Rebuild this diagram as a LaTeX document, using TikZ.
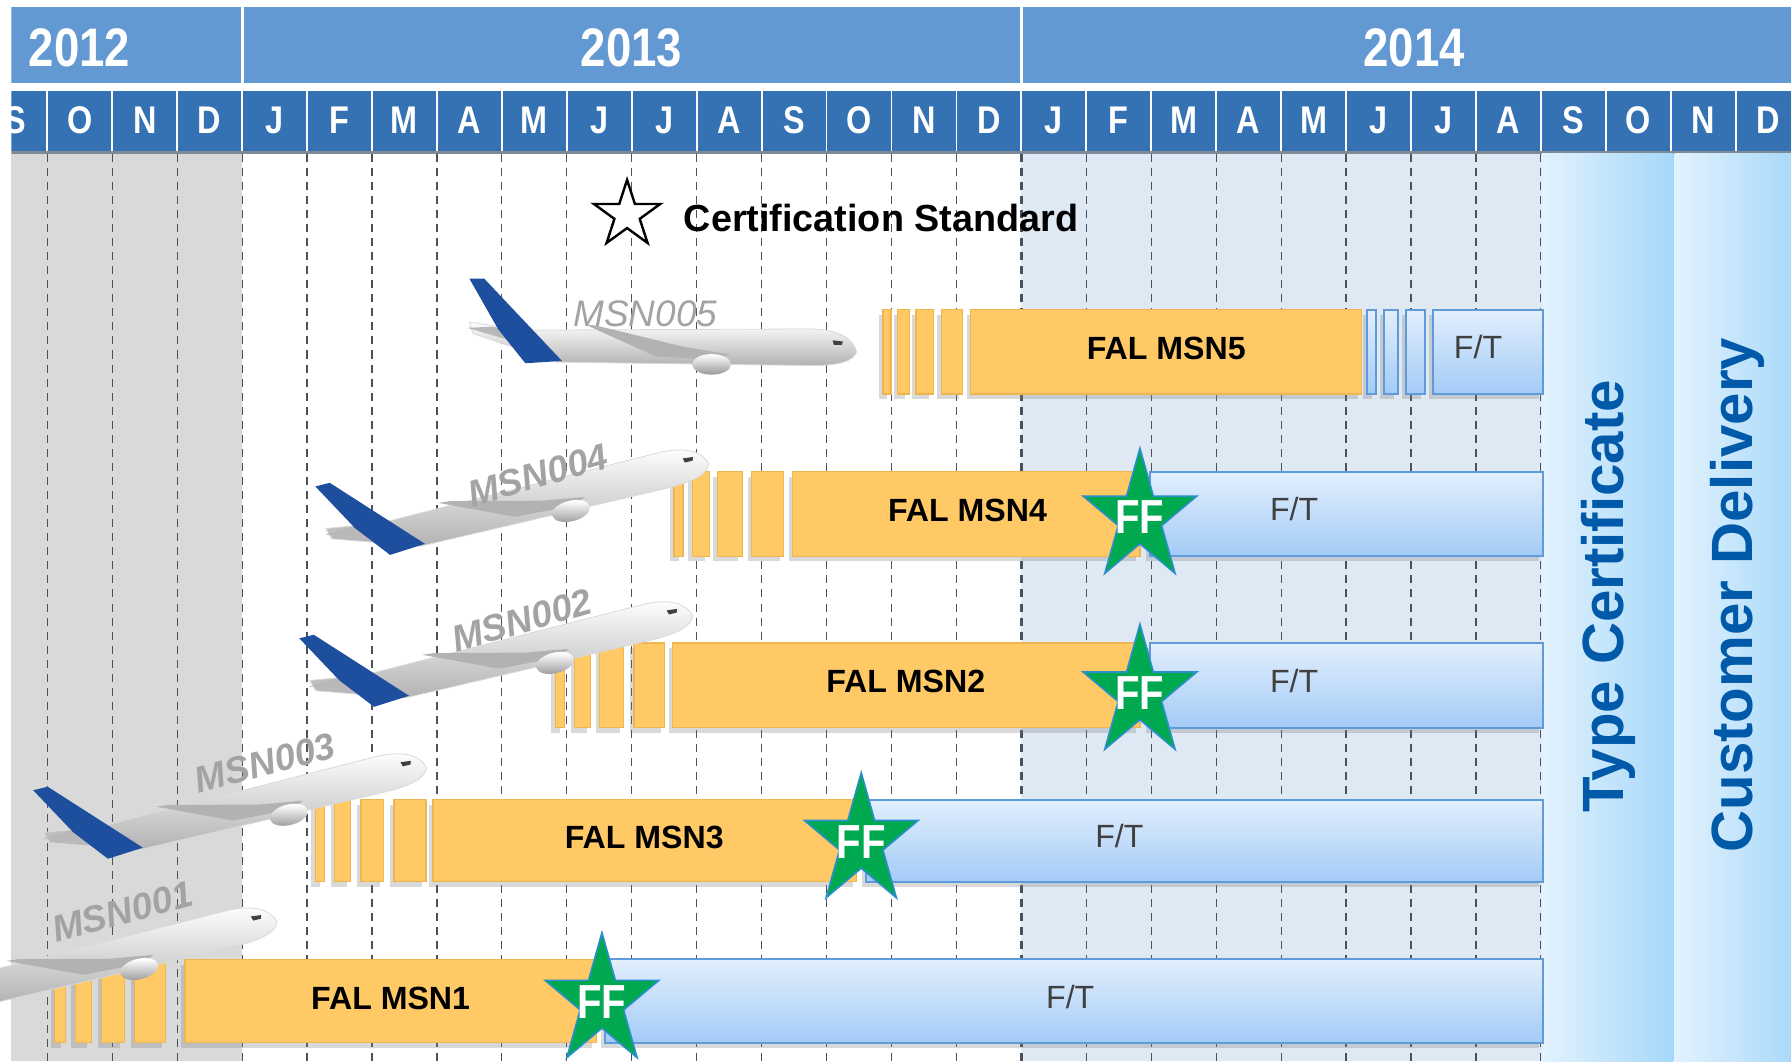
\documentclass[tikz,border=0pt]{standalone}
\usepackage{fontspec}
\setmainfont{Liberation Sans}
\usetikzlibrary{shapes.geometric,shadows}
\definecolor{YearBlue}{HTML}{6399D2}
\definecolor{MonthBlue}{HTML}{3572B4}
\definecolor{HeadLine}{HTML}{7F8A98}
\definecolor{Grey2012}{HTML}{D9D9D9}
\definecolor{Pale2014}{HTML}{DFE9F4}
\definecolor{TcLight}{HTML}{E3F2FD}
\definecolor{TcDeep}{HTML}{A5D8FA}
\definecolor{GridGrey}{HTML}{4A525C}
\definecolor{FalOrange}{HTML}{FFC966}
\definecolor{FalEdge}{HTML}{F0B451}
\definecolor{FtTop}{HTML}{E2EFFD}
\definecolor{FtBottom}{HTML}{A3CBF6}
\definecolor{FtEdge}{HTML}{5F9BD8}
\definecolor{FFGreen}{HTML}{00A94F}
\definecolor{FFEdge}{HTML}{2A8FCB}
\definecolor{TcText}{HTML}{0059A9}
\definecolor{MsnGrey}{HTML}{A3A3A1}
\definecolor{TailBlue}{HTML}{1D4F9E}

\newcommand{\narrowtxt}[1]{\scalebox{0.84}[1]{#1}}

\tikzset{
  yeartxt/.style={text=white, font=\bfseries\fontsize{13.5}{14}\selectfont, inner sep=0pt, anchor=base},
  monthtxt/.style={text=white, font=\bfseries\fontsize{9.6}{10}\selectfont, inner sep=0pt, anchor=base},
  gridline/.style={GridGrey, line width=0.3pt, dash pattern=on 2pt off 1.5pt},
  barshadow/.style={drop shadow={shadow xshift=-1pt, shadow yshift=-1.3pt, opacity=0.3}},
  falbar/.style={fill=FalOrange, draw=FalEdge, line width=0.3pt, barshadow},
  ftbar/.style={top color=FtTop, bottom color=FtBottom, draw=FtEdge, line width=0.5pt, barshadow},
  faltxt/.style={font=\bfseries\fontsize{8}{9}\selectfont, inner sep=0pt},
  fttxt/.style={text=black!75, font=\fontsize{8}{9}\selectfont, inner sep=0pt},
  ffstar/.style={star, star points=5, star point ratio=2.618, minimum size=1.21cm, inner sep=0pt,
    xscale=0.865, transform shape, fill=FFGreen, draw=FFEdge, line width=0.4pt},
  fftxt/.style={text=white, font=\bfseries\fontsize{11.9}{12}\selectfont, inner sep=0pt},
  certstar/.style={star, star points=5, star point ratio=2.618, minimum size=0.61cm, inner sep=0pt,
    draw=black, fill=white, line width=0.6pt},
  certtxt/.style={font=\bfseries\fontsize{9.4}{10}\selectfont, inner sep=0pt},
  msnlbl/.style={text=MsnGrey, font=\bfseries\itshape\fontsize{9.2}{10}\selectfont, inner sep=0pt},
  tctxt/.style={text=TcText, font=\bfseries\fontsize{14.5}{15}\selectfont, inner sep=0pt, rotate=90},
  airplane/.pic={
    % fuselage
    \shade[top color=white, middle color=white, bottom color=black!30, draw=black!15, line width=0.2pt]
      (0,2) .. controls (-3,-9) and (-14,-17) .. (-38,-18) -- (-292,-17) -- (-339,-24)
      -- (-336,-14) -- (-262,11) -- (-40,14) .. controls (-14,14) and (-3,10) .. (0,2) -- cycle;
    \fill[black!28] (-341,-19) -- (-318,-20) -- (-284,-9) -- (-300,-7) -- cycle;
    \fill[TailBlue] (-339,-62) -- (-326,-62) -- (-258,10) -- (-290,12) -- (-314,-18) -- cycle;
    % wing and engine
    \fill[black!30] (-238,-22) -- (-228,-21) -- (-150,-2) -- (-112,4) -- (-124,9) -- (-176,6) -- cycle;
    \shade[top color=white, bottom color=black!40] (-127,13) ellipse (17 and 9);
    \fill[black!75] (-21,-8) -- (-12,-7) -- (-13,-4) -- (-20,-4) -- cycle;
  }
}

\begin{document}
\begin{tikzpicture}[x=0.01cm, y=-0.01cm]
\useasboundingbox (0,0) rectangle (1568,929);
\clip (0,0) rectangle (1568,929);

% header
\begin{scope}
  \clip (10,0) rectangle (1568,929);
  \fill[YearBlue] (10,6) rectangle (1568,73);
  \draw[white, line width=0.8pt] (212,6) -- (212,73) (894,6) -- (894,73);
  \foreach \m [count=\i from -4] in {S,O,N,D,J,F,M,A,M,J,J,A,S,O,N,D,J,F,M,A,M,J,J,A,S,O,N,D}{
    \fill[MonthBlue] ({212+56.85*\i+0.8},80) rectangle ({212+56.85*(\i+1)-0.8},132);
    \node[monthtxt] (mon\i) at ({212+56.85*(\i+0.5)},116.5) {\narrowtxt{\m}};
  }
  \fill[HeadLine] (10,132) rectangle (1568,134.5);
\end{scope}
\node[yeartxt] (y2012) at (69.5,58.4) {\narrowtxt{2012}};
\node[yeartxt] (y2013) at (553,58.4) {\narrowtxt{2013}};
\node[yeartxt] (y2014) at (1238,58.4) {\narrowtxt{2014}};

% background columns
\fill[Grey2012] (10,134.5) rectangle (212,929);
\fill[Pale2014] (894,134.5) rectangle (1350,929);
\shade[left color=TcLight, right color=TcDeep] (1350,134.5) rectangle (1465,929);
\shade[left color=TcLight, right color=TcDeep] (1466,134.5) rectangle (1576,929);
\foreach \i in {-3,...,20}
  \draw[gridline] ({212+56.85*\i},134.5) -- ({212+56.85*\i},929);
\draw[gridline, line width=0.7pt] (894,134.5) -- (894,929);

% legend
\node[certstar] (cert) at (549,188) {};
\node[certtxt, anchor=base west] (certlbl) at (598,202.8) {Certification Standard};

% MSN5
\foreach \a/\b in {773/780,786/796,802/817,824/843} \path[falbar] (\a,271) rectangle (\b,345);
\path[falbar] (850,271) rectangle (1192,345);
\foreach \a/\b in {1197/1205,1212/1224,1231/1248} \path[ftbar] (\a,271) rectangle (\b,345);
\path[ftbar] (1255,271) rectangle (1351,345);
\node[faltxt] (fal5) at (1021,305) {FAL MSN5};
\node[fttxt] (ft5) at (1294,304) {F/T};

% MSN4
\foreach \a/\b in {590/598,606/621,628/650,658/686} \path[falbar] (\a,413) rectangle (\b,487);
\path[falbar] (694,413) rectangle (998,487);
\path[ftbar] (1007,413) rectangle (1351,487);
\node[faltxt] (fal4) at (847,447) {FAL MSN4};
\node[fttxt] (ft4) at (1133,446) {F/T};

% MSN2
\foreach \a/\b in {486/494,503/517,525/546,555/582} \path[falbar] (\a,563) rectangle (\b,637);
\path[falbar] (589,563) rectangle (998,637);
\path[ftbar] (1007,563) rectangle (1351,637);
\node[faltxt] (fal2) at (793,597) {FAL MSN2};
\node[fttxt] (ft2) at (1133,596) {F/T};

% MSN3
\foreach \a/\b in {276/284,293/307,316/336,345/373} \path[falbar] (\a,700) rectangle (\b,772);
\path[falbar] (379,700) rectangle (750,772);
\path[ftbar] (758,700) rectangle (1351,772);
\node[faltxt] (fal3) at (564,733) {FAL MSN3};
\node[fttxt] (ft3) at (980,732) {F/T};

% MSN1
\foreach \a/\b in {48/57,66/80,89/109,118/145} \path[falbar] (\a,840) rectangle (\b,913);
\path[falbar] (162,840) rectangle (522,913);
\path[ftbar] (530,840) rectangle (1351,913);
\node[faltxt] (fal1) at (342,874) {FAL MSN1};
\node[fttxt] (ft1) at (937,873) {F/T};

% first flights
\node[ffstar] (ff4) at (998,453) {};
\node[ffstar] (ff2) at (998,607) {};
\node[ffstar] (ff3) at (754,737) {};
\node[ffstar] (ff1) at (527,877) {};
\foreach \s in {ff4,ff2,ff3,ff1}
  \node[fftxt] (\s txt) at (\s) {\narrowtxt{FF}};

% aircraft
\pic at (750,306) {airplane};
\pic[rotate=14] at (620,404) {airplane};
\pic[rotate=14] at (606,537) {airplane};
\pic[rotate=14] at (373,670) {airplane};
\pic[rotate=14] at (242,805) {airplane};
\node[msnlbl, font=\itshape\fontsize{9.2}{10}\selectfont] (lbl5) at (565,275) {MSN005};
\node[msnlbl, rotate=16] (lbl4) at (471,416) {MSN004};
\node[msnlbl, rotate=16] (lbl2) at (457,543) {MSN002};
\node[msnlbl, rotate=15] (lbl3) at (232,668) {MSN003};
\node[msnlbl, rotate=15] (lbl1) at (107,798) {MSN001};

% milestones
\node[tctxt] (tc) at (1408,522) {Type Certificate};
\node[tctxt] (cd) at (1521,521) {Customer Delivery};
\end{tikzpicture}
\end{document}
